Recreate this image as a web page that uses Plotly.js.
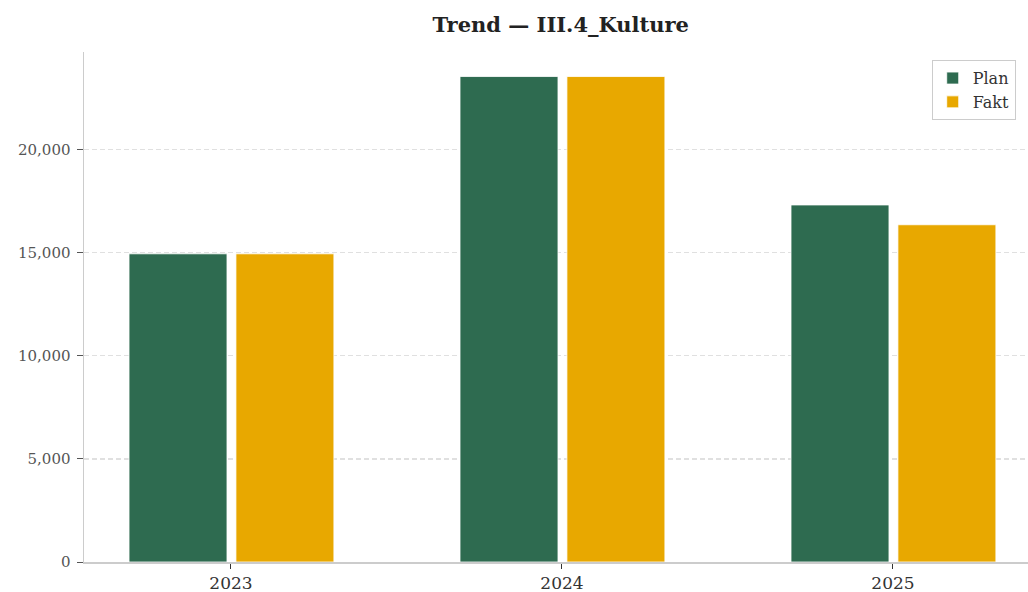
<!DOCTYPE html>
<html>
<head>
<meta charset="utf-8">
<script src="https://cdn.plot.ly/plotly-3.0.1.min.js"></script>
<style>html,body{margin:0;padding:0;background:#fff;}#chart{width:1028px;height:592px;}</style>
</head>
<body>
<div id="chart"></div>
<script>
const years = ["2023", "2024", "2025"];
const planValues = [14950, 23550, 17320];
const faktValues = [14950, 23550, 16360];
const seriesNames = ["Plan", "Fakt"];
const titleText = "Trend — III.4_Kulture";

const font = "DejaVu Serif, serif";
const traces = [
  {type: "bar", name: seriesNames[0], x: years, y: planValues, width: 0.296, offset: -0.308,
   marker: {color: "#2e6b50", line: {color: "#ffffff", width: 0.8}}, hoverinfo: "x+y+name"},
  {type: "bar", name: seriesNames[1], x: years, y: faktValues, width: 0.296, offset: 0.015,
   marker: {color: "#e8a800", line: {color: "#ffffff", width: 0.8}}, hoverinfo: "x+y+name"}
];
const layout = {
  width: 1028, height: 592,
  margin: {l: 84, r: 0, t: 52, b: 30, pad: 0, autoexpand: false},
  paper_bgcolor: "#ffffff", plot_bgcolor: "#ffffff",
  barmode: "overlay",
  font: {family: font, color: "#333"},
  title: {text: "<b>" + titleText + "</b>", font: {family: font, size: 21, color: "#222"},
          x: 0.505, xref: "paper", xanchor: "center", y: 0.958, yref: "container", yanchor: "middle"},
  xaxis: {type: "category", range: [-0.444, 2.408], showgrid: false, zeroline: false,
          showline: true, linecolor: "#cccccc", linewidth: 1.5,
          ticks: "outside", ticklen: 5, tickcolor: "#333", tickwidth: 1,
          tickfont: {family: font, size: 17, color: "#333"}},
  yaxis: {range: [0, 24740], showgrid: true, gridcolor: "#e0e0e0", griddash: "5px,3px", gridwidth: 1.2,
          zeroline: false, showline: true, linecolor: "#cccccc", linewidth: 1.5,
          ticks: "outside", ticklen: 6, tickcolor: "#555", tickwidth: 1, ticklabelstandoff: 3,
          tickvals: [0, 5000, 10000, 15000, 20000], ticktext: ["0", "5,000", "10,000", "15,000", "20,000"],
          tickfont: {family: font, size: 15, color: "#555"}},
  legend: {x: 0.898, y: 0.984, xanchor: "left", yanchor: "top", bgcolor: "#ffffff",
           bordercolor: "#cccccc", borderwidth: 1, font: {family: font, size: 16, color: "#333"},
           tracegroupgap: 0},
  showlegend: true
};
Plotly.newPlot("chart", traces, layout, {displayModeBar: false, staticPlot: true});
</script>
</body>
</html>
